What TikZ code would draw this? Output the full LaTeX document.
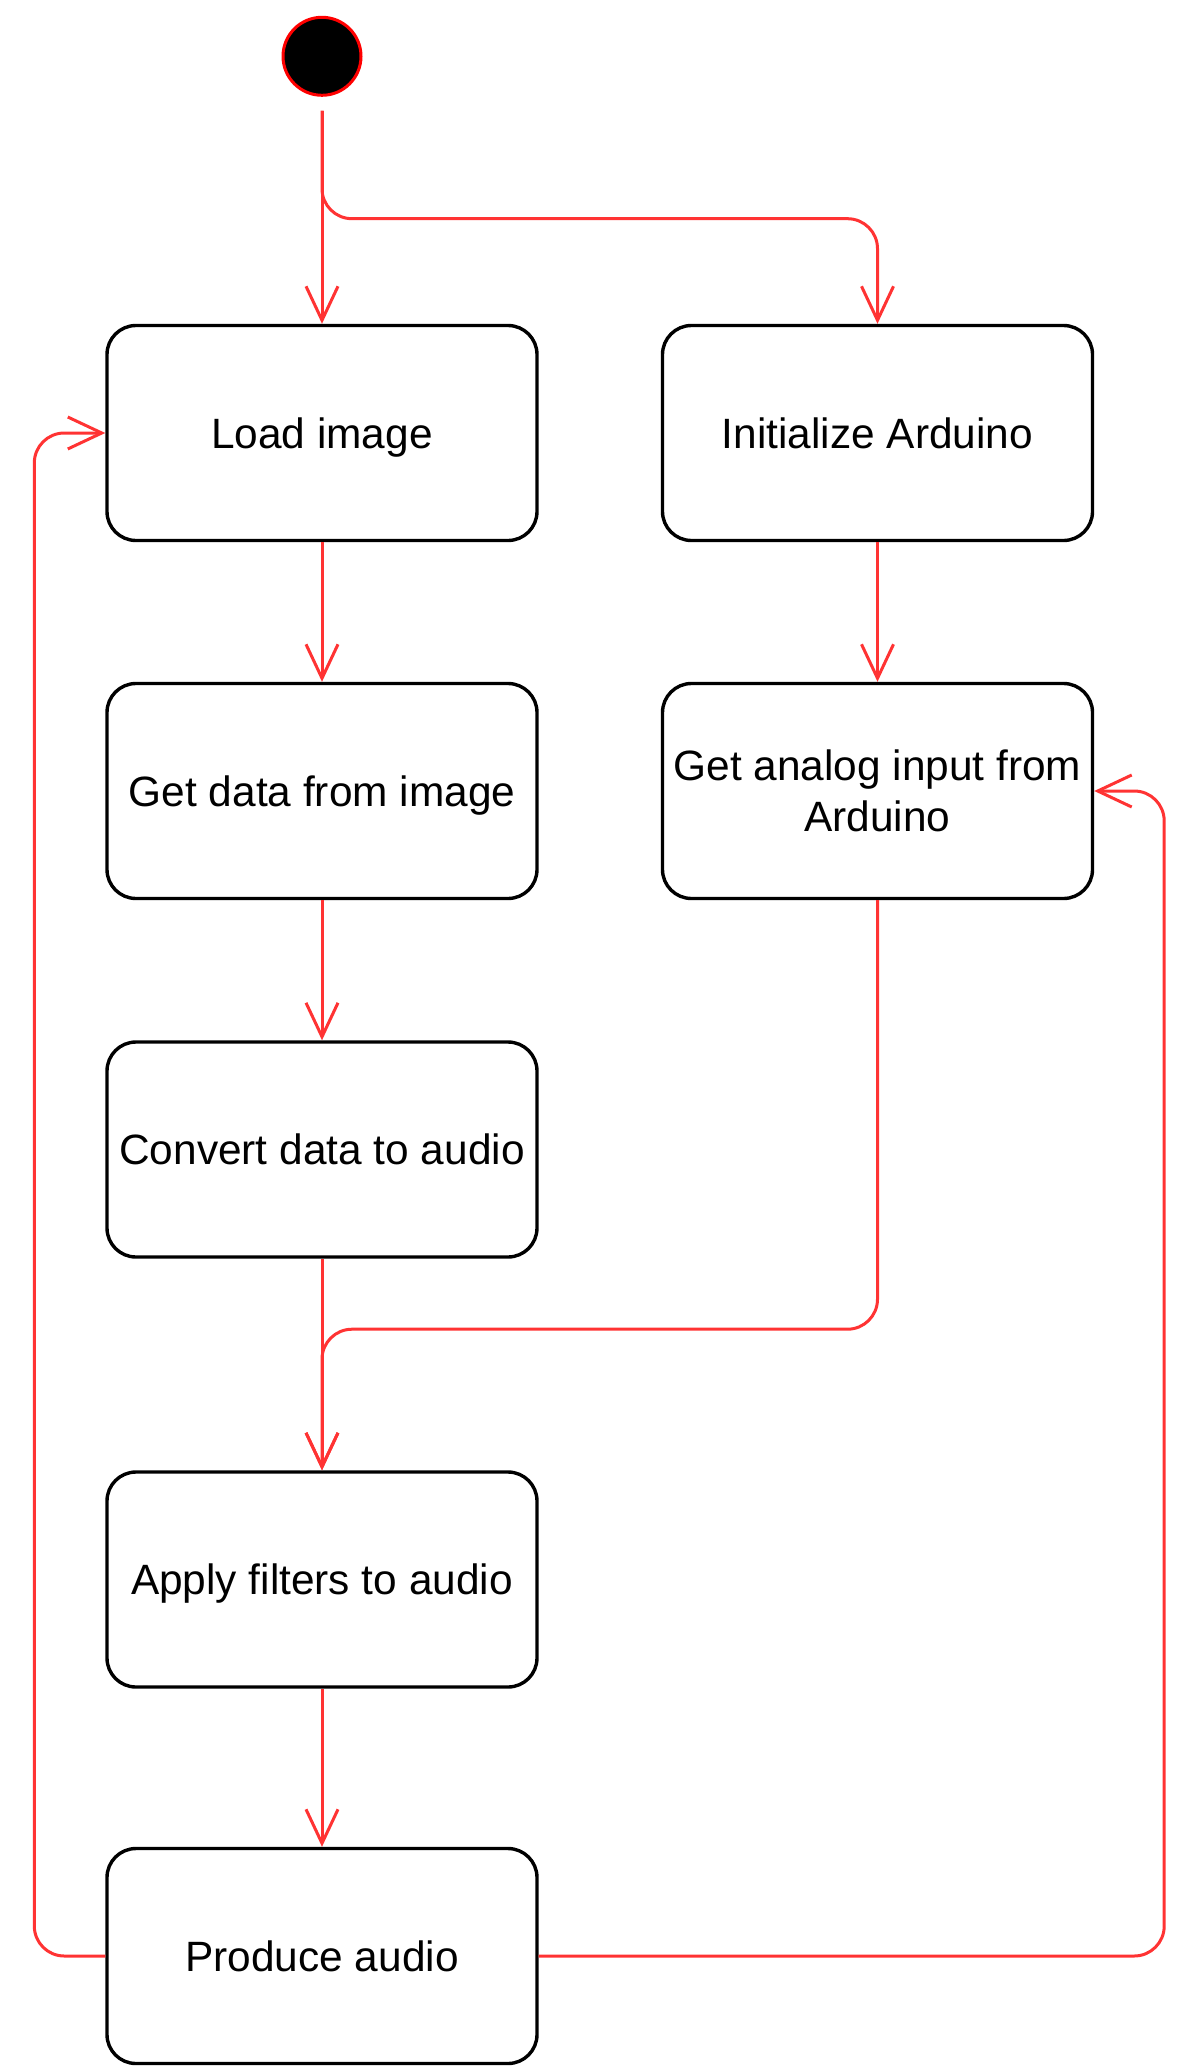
\documentclass[tikz,border=0pt]{standalone}
\usepackage{fontspec}
\setmainfont{Liberation Sans}
\usetikzlibrary{arrows.meta}
\definecolor{edgered}{HTML}{FF3333}
\begin{document}
\begin{tikzpicture}[x=1pt,y=-1pt,
  statebox/.style={draw=black, line width=3.4pt, rounded corners=29pt,
    minimum width=430pt, minimum height=215pt, inner sep=0pt,
    align=center, fill=white, font=\fontsize{42.4}{50.7}\selectfont},
  oneline/.style={text height=30.4pt, text depth=0pt},
  flow/.style={draw=edgered, line width=3pt, rounded corners=30pt,
    -{Straight Barb[length=34pt,width=32pt]}},
]
\useasboundingbox[fill=white] (0,0) rectangle (1202,2068);
\node[circle, fill=black, draw=red, line width=3pt, minimum size=78pt, inner sep=0pt] (start) at (322,56.3) {};
\coordinate (s0) at (322,110.7);

\node[statebox, oneline] (load) at (322,433) {Load image};
\node[statebox, oneline] (init) at (877.5,433) {Initialize Arduino};
\node[statebox, oneline] (getdata) at (322,791) {Get data from image};
\node[statebox] (analog) at (877.5,791) {Get analog input from\\Arduino};
\node[statebox, oneline] (convert) at (322,1149.5) {Convert data to audio};
\node[statebox, oneline] (apply) at (322,1579.5) {Apply filters to audio};
\node[statebox, oneline] (produce) at (322,1956) {Produce audio};

\draw[flow] (s0) -- (load.north);
\draw[flow] (s0) -- ++(0,108) -| (init.north);
\draw[flow] (load.south) -- (getdata.north);
\draw[flow] (init.south) -- (analog.north);
\draw[flow] (getdata.south) -- (convert.north);
\draw[flow] (convert.south) -- (apply.north);
\draw[flow] (analog.south) -- ++(0,429) -| (apply.north);
\draw[flow] (apply.south) -- (produce.north);
\draw[flow] (produce.west) -- ++(-71,0) |- (load.west);
\draw[flow] (produce.east) -| ([xshift=70pt]analog.east) -- (analog.east);
\end{tikzpicture}
\end{document}
